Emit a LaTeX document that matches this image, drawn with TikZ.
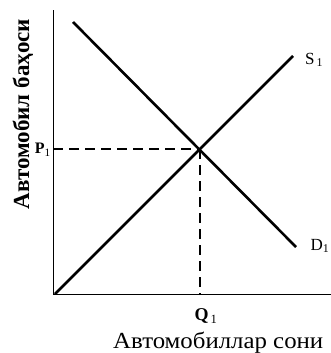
\documentclass[tikz,border=0pt]{standalone}
\usepackage{fontspec}
\setmainfont{Liberation Serif}
\usetikzlibrary{positioning,calc}

\begin{document}
\begin{tikzpicture}[x=1pt,y=-1pt,
  axis/.style={draw=black,line width=0.8pt},
  curve/.style={draw=black,line width=2.6pt},
  guide/.style={draw=black,line width=1.6pt,dash pattern=on 10pt off 6pt},
  lbl/.style={inner sep=0pt,font=\fontsize{17}{19}\selectfont}]
\useasboundingbox (0,0) rectangle (331,353);
% osi
\coordinate (o) at (53,294);
\coordinate (ytop) at (53,10);
\coordinate (xend) at (331,294);
\draw[axis] (o)--(ytop);
\draw[axis] (o)--(xend);
% taklif va talab
\coordinate (s0) at (55,294);
\coordinate (s1) at (293,56);
\coordinate (d0) at (73,22);
\coordinate (d1) at (296,247);
\draw[curve] (s0)--(s1);
\draw[curve] (d0)--(d1);
\coordinate (e) at (200,149);
\coordinate (pe) at (o|-e);
\coordinate (qe) at (o-|e);
\draw[guide] (pe)--(e);
\draw[guide] (e)--(qe);
% yozuvlar
\node[lbl] (s1l) at (314,60) {S$_{\,\mathrm{1}}$};
\node[lbl] (d1l) at (320,246) {D$_{\mathrm{1}}$};
\node[lbl,font=\fontsize{16}{18}\selectfont\bfseries,anchor=east] (p1l) at (51,150) {P$_{\mathrm{1}}$};
\node[lbl,font=\fontsize{18}{20}\selectfont\bfseries] (q1l) at (206,316) {Q$_{\,\mathrm{1}}$};
\node[lbl,font=\fontsize{23}{25}\selectfont,anchor=base west,xscale=1.08] (xl) at (113,348) {Автомобиллар сони};
\node[lbl,font=\fontsize{23}{25}\selectfont\bfseries,rotate=90] (yl) at (23,114) {Автомобил баҳоси};
\end{tikzpicture}
\end{document}
